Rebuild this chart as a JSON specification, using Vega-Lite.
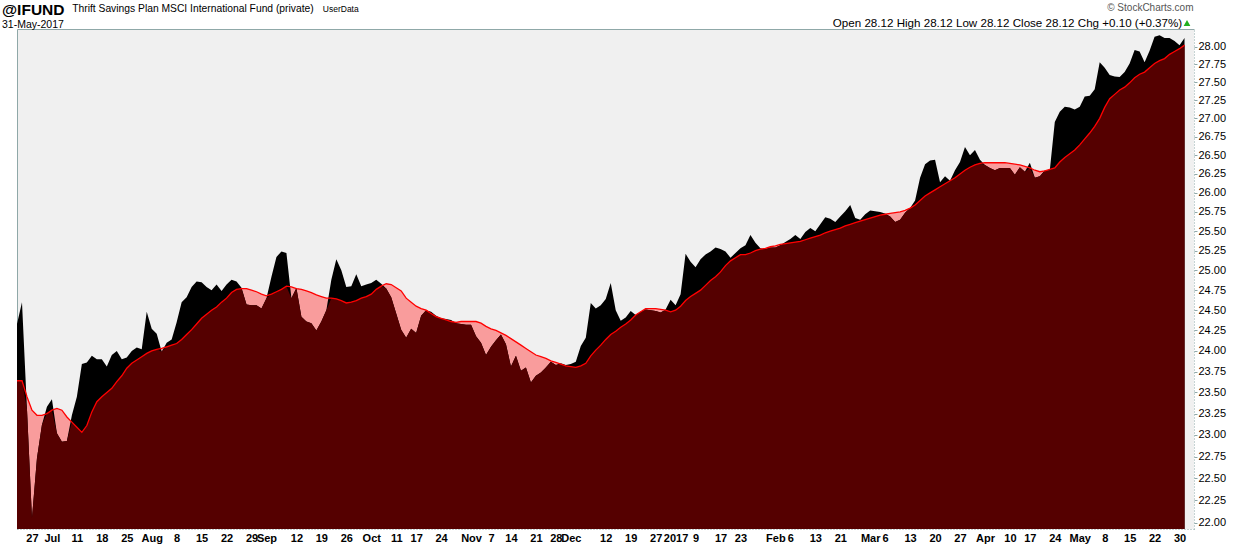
{
"$schema": "https://vega.github.io/schema/vega-lite/v6.json",
"width": 1177, "height": 500,
"autosize": {"type": "none"},
"padding": {"left": 17, "top": 29, "right": 46, "bottom": 17},
"background": "#ffffff",
"config": {"font": "Liberation Sans", "view": {"stroke": null, "fill": "#f0f0f0"}},
"title": {"text": "@IFUND", "subtitle": "31-May-2017", "anchor": "start", "frame": "group", "dx": -15, "dy": 28, "offset": 0, "fontSize": 15.5, "fontWeight": "bold", "color": "#000", "subtitleFontSize": 10.5, "subtitleColor": "#000", "subtitlePadding": 1},
"data": {"values": [
{"d":"2016-06-22","p":24.33,"ma":23.64},{"d":"2016-06-23","p":24.60,"ma":23.64},{"d":"2016-06-24","p":23.30,"ma":23.45},{"d":"2016-06-27","p":22.05,"ma":23.29},{"d":"2016-06-28","p":22.73,"ma":23.23},{"d":"2016-06-29","p":23.12,"ma":23.23},{"d":"2016-06-30","p":23.33,"ma":23.25},
{"d":"2016-07-01","p":23.42,"ma":23.29},{"d":"2016-07-05","p":23.02,"ma":23.31},{"d":"2016-07-06","p":22.92,"ma":23.29},{"d":"2016-07-07","p":22.93,"ma":23.21},{"d":"2016-07-08","p":23.23,"ma":23.15},{"d":"2016-07-11","p":23.45,"ma":23.09},{"d":"2016-07-12","p":23.84,"ma":23.03},{"d":"2016-07-13","p":23.86,"ma":23.11},{"d":"2016-07-14","p":23.94,"ma":23.27},{"d":"2016-07-15","p":23.90,"ma":23.39},{"d":"2016-07-18","p":23.90,"ma":23.45},{"d":"2016-07-19","p":23.81,"ma":23.50},{"d":"2016-07-20","p":23.95,"ma":23.55},{"d":"2016-07-21","p":24.00,"ma":23.63},{"d":"2016-07-22","p":23.90,"ma":23.70},{"d":"2016-07-25","p":23.92,"ma":23.79},{"d":"2016-07-26","p":24.00,"ma":23.85},{"d":"2016-07-27","p":24.04,"ma":23.89},{"d":"2016-07-28","p":24.02,"ma":23.93},{"d":"2016-07-29","p":24.48,"ma":23.97},
{"d":"2016-08-01","p":24.27,"ma":24.00},{"d":"2016-08-02","p":24.21,"ma":24.02},{"d":"2016-08-03","p":23.99,"ma":24.03},{"d":"2016-08-04","p":24.10,"ma":24.05},{"d":"2016-08-05","p":24.14,"ma":24.07},{"d":"2016-08-08","p":24.35,"ma":24.09},{"d":"2016-08-09","p":24.60,"ma":24.14},{"d":"2016-08-10","p":24.66,"ma":24.20},{"d":"2016-08-11","p":24.79,"ma":24.26},{"d":"2016-08-12","p":24.86,"ma":24.33},{"d":"2016-08-15","p":24.85,"ma":24.40},{"d":"2016-08-16","p":24.79,"ma":24.45},{"d":"2016-08-17","p":24.75,"ma":24.50},{"d":"2016-08-18","p":24.82,"ma":24.54},{"d":"2016-08-19","p":24.74,"ma":24.60},{"d":"2016-08-22","p":24.82,"ma":24.65},{"d":"2016-08-23","p":24.88,"ma":24.72},{"d":"2016-08-24","p":24.86,"ma":24.76},{"d":"2016-08-25","p":24.78,"ma":24.77},{"d":"2016-08-26","p":24.57,"ma":24.77},{"d":"2016-08-29","p":24.56,"ma":24.75},{"d":"2016-08-30","p":24.56,"ma":24.73},{"d":"2016-08-31","p":24.52,"ma":24.70},
{"d":"2016-09-01","p":24.65,"ma":24.68},{"d":"2016-09-02","p":24.92,"ma":24.70},{"d":"2016-09-06","p":25.17,"ma":24.73},{"d":"2016-09-07","p":25.24,"ma":24.76},{"d":"2016-09-08","p":25.22,"ma":24.80},{"d":"2016-09-09","p":24.65,"ma":24.79},{"d":"2016-09-12","p":24.78,"ma":24.77},{"d":"2016-09-13","p":24.42,"ma":24.76},{"d":"2016-09-14","p":24.36,"ma":24.74},{"d":"2016-09-15","p":24.34,"ma":24.72},{"d":"2016-09-16","p":24.25,"ma":24.69},{"d":"2016-09-19","p":24.36,"ma":24.67},{"d":"2016-09-20","p":24.50,"ma":24.65},{"d":"2016-09-21","p":24.88,"ma":24.65},{"d":"2016-09-22","p":25.14,"ma":24.64},{"d":"2016-09-23","p":25.00,"ma":24.62},{"d":"2016-09-26","p":24.79,"ma":24.59},{"d":"2016-09-27","p":24.80,"ma":24.60},{"d":"2016-09-28","p":24.95,"ma":24.62},{"d":"2016-09-29","p":24.80,"ma":24.65},{"d":"2016-09-30","p":24.82,"ma":24.67},
{"d":"2016-10-03","p":24.84,"ma":24.70},{"d":"2016-10-04","p":24.88,"ma":24.76},{"d":"2016-10-05","p":24.83,"ma":24.80},{"d":"2016-10-06","p":24.77,"ma":24.83},{"d":"2016-10-07","p":24.66,"ma":24.82},{"d":"2016-10-11","p":24.46,"ma":24.78},{"d":"2016-10-12","p":24.26,"ma":24.74},{"d":"2016-10-13","p":24.16,"ma":24.65},{"d":"2016-10-14","p":24.27,"ma":24.60},{"d":"2016-10-17","p":24.22,"ma":24.55},{"d":"2016-10-18","p":24.43,"ma":24.52},{"d":"2016-10-19","p":24.50,"ma":24.50},{"d":"2016-10-20","p":24.48,"ma":24.46},{"d":"2016-10-21","p":24.43,"ma":24.42},{"d":"2016-10-24","p":24.40,"ma":24.40},{"d":"2016-10-25","p":24.39,"ma":24.38},{"d":"2016-10-26","p":24.38,"ma":24.36},{"d":"2016-10-27","p":24.34,"ma":24.35},{"d":"2016-10-28","p":24.33,"ma":24.36},{"d":"2016-10-31","p":24.32,"ma":24.36},
{"d":"2016-11-01","p":24.32,"ma":24.36},{"d":"2016-11-02","p":24.18,"ma":24.36},{"d":"2016-11-03","p":24.10,"ma":24.34},{"d":"2016-11-04","p":23.95,"ma":24.30},{"d":"2016-11-07","p":24.05,"ma":24.27},{"d":"2016-11-08","p":24.13,"ma":24.25},{"d":"2016-11-09","p":24.20,"ma":24.22},{"d":"2016-11-10","p":24.08,"ma":24.19},{"d":"2016-11-14","p":23.81,"ma":24.15},{"d":"2016-11-15","p":23.94,"ma":24.11},{"d":"2016-11-16","p":23.76,"ma":24.07},{"d":"2016-11-17","p":23.80,"ma":24.03},{"d":"2016-11-18","p":23.62,"ma":23.99},{"d":"2016-11-21","p":23.70,"ma":23.95},{"d":"2016-11-22","p":23.74,"ma":23.93},{"d":"2016-11-23","p":23.80,"ma":23.91},{"d":"2016-11-25","p":23.87,"ma":23.88},{"d":"2016-11-28","p":23.83,"ma":23.86},{"d":"2016-11-29","p":23.85,"ma":23.84},{"d":"2016-11-30","p":23.83,"ma":23.82},
{"d":"2016-12-01","p":23.84,"ma":23.81},{"d":"2016-12-02","p":23.87,"ma":23.80},{"d":"2016-12-05","p":24.06,"ma":23.82},{"d":"2016-12-06","p":24.16,"ma":23.85},{"d":"2016-12-07","p":24.59,"ma":23.94},{"d":"2016-12-08","p":24.52,"ma":24.01},{"d":"2016-12-09","p":24.56,"ma":24.07},{"d":"2016-12-12","p":24.64,"ma":24.14},{"d":"2016-12-13","p":24.84,"ma":24.20},{"d":"2016-12-14","p":24.50,"ma":24.24},{"d":"2016-12-15","p":24.37,"ma":24.29},{"d":"2016-12-16","p":24.41,"ma":24.33},{"d":"2016-12-19","p":24.49,"ma":24.38},{"d":"2016-12-20","p":24.44,"ma":24.44},{"d":"2016-12-21","p":24.48,"ma":24.48},{"d":"2016-12-22","p":24.51,"ma":24.52},{"d":"2016-12-23","p":24.50,"ma":24.52},{"d":"2016-12-27","p":24.49,"ma":24.52},{"d":"2016-12-28","p":24.47,"ma":24.51},{"d":"2016-12-29","p":24.51,"ma":24.50},{"d":"2016-12-30","p":24.63,"ma":24.48},
{"d":"2017-01-03","p":24.56,"ma":24.50},{"d":"2017-01-04","p":24.70,"ma":24.55},{"d":"2017-01-05","p":25.21,"ma":24.62},{"d":"2017-01-06","p":25.11,"ma":24.67},{"d":"2017-01-09","p":25.04,"ma":24.71},{"d":"2017-01-10","p":25.14,"ma":24.75},{"d":"2017-01-11","p":25.20,"ma":24.81},{"d":"2017-01-12","p":25.24,"ma":24.87},{"d":"2017-01-13","p":25.29,"ma":24.92},{"d":"2017-01-17","p":25.27,"ma":24.98},{"d":"2017-01-18","p":25.24,"ma":25.06},{"d":"2017-01-19","p":25.16,"ma":25.12},{"d":"2017-01-20","p":25.22,"ma":25.16},{"d":"2017-01-23","p":25.28,"ma":25.20},{"d":"2017-01-24","p":25.32,"ma":25.20},{"d":"2017-01-25","p":25.45,"ma":25.22},{"d":"2017-01-26","p":25.35,"ma":25.25},{"d":"2017-01-27","p":25.28,"ma":25.27},{"d":"2017-01-30","p":25.27,"ma":25.28},{"d":"2017-01-31","p":25.29,"ma":25.30},
{"d":"2017-02-01","p":25.29,"ma":25.31},{"d":"2017-02-02","p":25.32,"ma":25.33},{"d":"2017-02-03","p":25.36,"ma":25.34},{"d":"2017-02-06","p":25.40,"ma":25.35},{"d":"2017-02-07","p":25.45,"ma":25.36},{"d":"2017-02-08","p":25.40,"ma":25.37},{"d":"2017-02-09","p":25.49,"ma":25.39},{"d":"2017-02-10","p":25.54,"ma":25.41},{"d":"2017-02-13","p":25.50,"ma":25.43},{"d":"2017-02-14","p":25.59,"ma":25.45},{"d":"2017-02-15","p":25.68,"ma":25.48},{"d":"2017-02-16","p":25.66,"ma":25.50},{"d":"2017-02-17","p":25.62,"ma":25.52},{"d":"2017-02-21","p":25.69,"ma":25.54},{"d":"2017-02-22","p":25.76,"ma":25.57},{"d":"2017-02-23","p":25.84,"ma":25.59},{"d":"2017-02-24","p":25.67,"ma":25.61},{"d":"2017-02-27","p":25.65,"ma":25.63},{"d":"2017-02-28","p":25.72,"ma":25.65},
{"d":"2017-03-01","p":25.77,"ma":25.67},{"d":"2017-03-02","p":25.76,"ma":25.69},{"d":"2017-03-03","p":25.75,"ma":25.71},{"d":"2017-03-06","p":25.73,"ma":25.72},{"d":"2017-03-07","p":25.69,"ma":25.73},{"d":"2017-03-08","p":25.62,"ma":25.74},{"d":"2017-03-09","p":25.65,"ma":25.75},{"d":"2017-03-10","p":25.74,"ma":25.77},{"d":"2017-03-13","p":25.80,"ma":25.80},{"d":"2017-03-14","p":25.90,"ma":25.84},{"d":"2017-03-15","p":26.20,"ma":25.90},{"d":"2017-03-16","p":26.38,"ma":25.96},{"d":"2017-03-17","p":26.43,"ma":26.00},{"d":"2017-03-20","p":26.44,"ma":26.04},{"d":"2017-03-21","p":26.14,"ma":26.08},{"d":"2017-03-22","p":26.22,"ma":26.12},{"d":"2017-03-23","p":26.16,"ma":26.16},{"d":"2017-03-24","p":26.30,"ma":26.20},{"d":"2017-03-27","p":26.41,"ma":26.25},{"d":"2017-03-28","p":26.61,"ma":26.30},{"d":"2017-03-29","p":26.50,"ma":26.34},{"d":"2017-03-30","p":26.57,"ma":26.37},{"d":"2017-03-31","p":26.44,"ma":26.39},
{"d":"2017-04-03","p":26.37,"ma":26.40},{"d":"2017-04-04","p":26.33,"ma":26.40},{"d":"2017-04-05","p":26.30,"ma":26.40},{"d":"2017-04-06","p":26.33,"ma":26.40},{"d":"2017-04-07","p":26.33,"ma":26.40},{"d":"2017-04-10","p":26.33,"ma":26.39},{"d":"2017-04-11","p":26.24,"ma":26.38},{"d":"2017-04-12","p":26.34,"ma":26.37},{"d":"2017-04-13","p":26.28,"ma":26.35},{"d":"2017-04-17","p":26.40,"ma":26.33},{"d":"2017-04-18","p":26.20,"ma":26.30},{"d":"2017-04-19","p":26.22,"ma":26.28},{"d":"2017-04-20","p":26.30,"ma":26.29},{"d":"2017-04-21","p":26.30,"ma":26.31},{"d":"2017-04-24","p":26.95,"ma":26.33},{"d":"2017-04-25","p":27.09,"ma":26.41},{"d":"2017-04-26","p":27.16,"ma":26.47},{"d":"2017-04-27","p":27.15,"ma":26.52},{"d":"2017-04-28","p":27.12,"ma":26.57},
{"d":"2017-05-01","p":27.16,"ma":26.64},{"d":"2017-05-02","p":27.30,"ma":26.72},{"d":"2017-05-03","p":27.31,"ma":26.80},{"d":"2017-05-04","p":27.40,"ma":26.89},{"d":"2017-05-05","p":27.78,"ma":27.00},{"d":"2017-05-08","p":27.70,"ma":27.15},{"d":"2017-05-09","p":27.60,"ma":27.27},{"d":"2017-05-10","p":27.58,"ma":27.33},{"d":"2017-05-11","p":27.57,"ma":27.39},{"d":"2017-05-12","p":27.64,"ma":27.43},{"d":"2017-05-15","p":27.76,"ma":27.49},{"d":"2017-05-16","p":27.95,"ma":27.56},{"d":"2017-05-17","p":27.93,"ma":27.61},{"d":"2017-05-18","p":27.78,"ma":27.64},{"d":"2017-05-19","p":27.94,"ma":27.70},{"d":"2017-05-22","p":28.14,"ma":27.76},{"d":"2017-05-23","p":28.16,"ma":27.80},{"d":"2017-05-24","p":28.12,"ma":27.83},{"d":"2017-05-25","p":28.12,"ma":27.89},{"d":"2017-05-26","p":28.08,"ma":27.93},{"d":"2017-05-30","p":28.02,"ma":27.97},{"d":"2017-05-31","p":28.12,"ma":28.02}
]},
"layer": [
 {"encoding": {"x": {"field": "d", "type": "ordinal", "scale": {"type": "point", "padding": 0.95, "align": 0},
   "axis": {"orient": "bottom",
    "values": ["2016-06-27","2016-07-01","2016-07-11","2016-07-18","2016-07-25","2016-08-01","2016-08-08","2016-08-15","2016-08-22","2016-08-29","2016-09-01","2016-09-12","2016-09-19","2016-09-26","2016-10-03","2016-10-11","2016-10-17","2016-10-24","2016-11-01","2016-11-07","2016-11-14","2016-11-21","2016-11-28","2016-12-01","2016-12-12","2016-12-19","2016-12-27","2017-01-03","2017-01-09","2017-01-17","2017-01-23","2017-02-01","2017-02-06","2017-02-13","2017-02-21","2017-03-01","2017-03-06","2017-03-13","2017-03-20","2017-03-27","2017-04-03","2017-04-10","2017-04-17","2017-04-24","2017-05-01","2017-05-08","2017-05-15","2017-05-22","2017-05-30"],
    "labelExpr": "indexof(['2016-07-01','2016-08-01','2016-09-01','2016-10-03','2016-11-01','2016-12-01','2017-02-01','2017-03-01','2017-04-03','2017-05-01'], datum.value) >= 0 ? ['Jan','Feb','Mar','Apr','May','Jun','Jul','Aug','Sep','Oct','Nov','Dec'][toNumber(substring(datum.value,5,7))-1] : (datum.value == '2017-01-03' ? '2017' : '' + toNumber(substring(datum.value,8,10)))",
    "labelFontSize": 11, "labelFontWeight": {"condition": {"test": "length(datum.label) > 2", "value": "bold"}, "value": "normal"},
    "labelColor": "#000", "labelAngle": 0, "labelPadding": 3, "labelOverlap": false, "ticks": false,
    "domainColor": "#8fa8a8", "domainDash": [1, 2], "grid": false,
    "title": "Thrift Savings Plan MSCI International Fund (private)", "titleX": 54.7, "titleY": -517.5, "titleAlign": "left", "titleBaseline": "alphabetic", "titleFontSize": 10.3, "titleFontWeight": "normal", "titleColor": "#000"}}},
  "layer": [
   {"mark": {"type": "area", "color": "#f99c9c"},
    "encoding": {"y": {"field": "ma", "type": "quantitative", "scale": {"type": "log", "domain": [21.93, 28.25], "nice": false, "zero": false},
      "axis": {"orient": "right", "values": [22,22.25,22.5,22.75,23,23.25,23.5,23.75,24,24.25,24.5,24.75,25,25.25,25.5,25.75,26,26.25,26.5,26.75,27,27.25,27.5,27.75,28], "format": ".2f", "labelFontSize": 11, "labelColor": "#000", "labelPadding": 1, "tickSize": 3, "tickColor": "#8fa8a8", "domainColor": "#8fa8a8", "domainDash": [1, 2], "grid": false, "labelOverlap": false,
        "title": "UserData", "titleX": -871.7, "titleY": -17.5, "titleAngle": 0, "titleAlign": "left", "titleBaseline": "alphabetic", "titleFontSize": 8.5, "titleFontWeight": "normal", "titleColor": "#000"}},
     "y2": {"datum": 21.93}}},
   {"mark": {"type": "area", "color": "#000000"},
    "encoding": {"y": {"field": "p", "type": "quantitative", "scale": {"type": "log", "domain": [21.93, 28.25], "nice": false, "zero": false},
      "axis": {"orient": "right", "values": [22,22.25,22.5,22.75,23,23.25,23.5,23.75,24,24.25,24.5,24.75,25,25.25,25.5,25.75,26,26.25,26.5,26.75,27,27.25,27.5,27.75,28], "format": ".2f", "labelFontSize": 11, "labelColor": "#000", "labelPadding": 1, "tickSize": 3, "tickColor": "#8fa8a8", "domainColor": "#8fa8a8", "domainDash": [1, 2], "grid": false, "labelOverlap": false,
        "title": "UserData", "titleX": -871.7, "titleY": -17.5, "titleAngle": 0, "titleAlign": "left", "titleBaseline": "alphabetic", "titleFontSize": 8.5, "titleFontWeight": "normal", "titleColor": "#000"}},
     "y2": {"datum": 21.93}}},
   {"transform": [{"fold": ["p", "ma"], "as": ["k", "v"]}, {"aggregate": [{"op": "min", "field": "v", "as": "lo"}], "groupby": ["d"]}],
    "mark": {"type": "area", "color": "#550000"},
    "encoding": {"y": {"field": "lo", "type": "quantitative", "scale": {"type": "log", "domain": [21.93, 28.25], "nice": false, "zero": false},
      "axis": {"orient": "right", "values": [22,22.25,22.5,22.75,23,23.25,23.5,23.75,24,24.25,24.5,24.75,25,25.25,25.5,25.75,26,26.25,26.5,26.75,27,27.25,27.5,27.75,28], "format": ".2f", "labelFontSize": 11, "labelColor": "#000", "labelPadding": 1, "tickSize": 3, "tickColor": "#8fa8a8", "domainColor": "#8fa8a8", "domainDash": [1, 2], "grid": false, "labelOverlap": false,
        "title": "UserData", "titleX": -871.7, "titleY": -17.5, "titleAngle": 0, "titleAlign": "left", "titleBaseline": "alphabetic", "titleFontSize": 8.5, "titleFontWeight": "normal", "titleColor": "#000"}},
     "y2": {"datum": 21.93}}}
  ]},
 {"mark": {"type": "line", "strokeWidth": 1.3},
  "encoding": {
   "x": {"field": "d", "type": "ordinal", "axis": {"orient": "top", "labels": false, "ticks": false, "domainColor": "#8fa8a8", "grid": false,
      "title": "Open 28.12  High 28.12  Low 28.12  Close 28.12  Chg +0.10 (+0.37%)", "titleX": 1164.7, "titleY": -2.5, "titleAlign": "right", "titleBaseline": "alphabetic", "titleFontSize": 11.6, "titleFontWeight": "normal", "titleColor": "#000"}},
   "y": {"field": "ma", "type": "quantitative", "axis": {"orient": "left", "labels": false, "ticks": false, "domainColor": "#8fa8a8", "grid": false,
      "title": "© StockCharts.com", "titleX": 1176, "titleY": -19, "titleAngle": 0, "titleAlign": "right", "titleBaseline": "alphabetic", "titleFontSize": 10, "titleFontWeight": "normal", "titleColor": "#555"}},
   "color": {"datum": "up", "scale": {"range": ["#ff0000"]},
      "legend": {"orient": "none", "legendX": 1165, "legendY": -11, "title": null, "labelExpr": "''", "symbolType": "triangle-up", "symbolSize": 45, "padding": 0,
        "encode": {"symbols": {"update": {"fill": {"value": "#1fb01f"}, "stroke": {"value": "#1fb01f"}, "strokeWidth": {"value": 0}}}}}}}}
],
"resolve": {"axis": {"x": "independent", "y": "independent"}}
}
